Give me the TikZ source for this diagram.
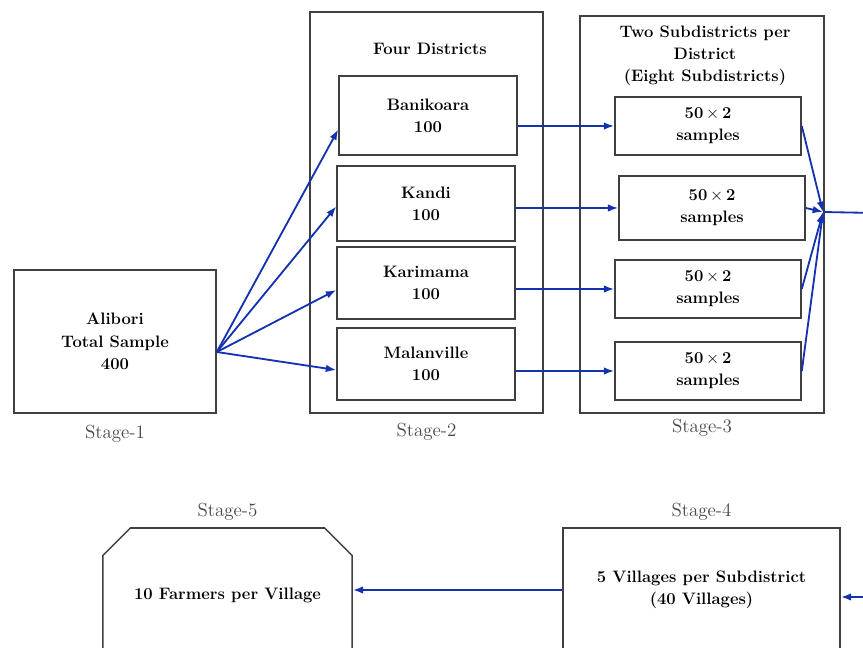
\documentclass[tikz,border=0pt]{standalone}
\usetikzlibrary{arrows.meta, positioning, calc, shapes.misc}
\definecolor{flowblue}{RGB}{20,50,175}
\tikzset{
    >={Latex[length=2.6mm,width=1.9mm]},
    box/.style={draw=black!75, line width=1.1pt, align=center, inner sep=0pt,
        font=\fontsize{11.8}{15.8}\selectfont\bfseries},
    frame/.style={draw=black!75, line width=1.1pt, inner sep=0pt},
    stage/.style={text=black!72, font=\fontsize{13.5}{15}\selectfont},
    flow/.style={->, draw=flowblue, line width=1.3pt},
}
\begin{document}
\begin{tikzpicture}[x=0.025cm, y=-0.025cm]
    \useasboundingbox (0,0) rectangle (863,648);
    \clip (0,0) rectangle (863,648);
    % stage 1
    \node[box, minimum width=5.05cm, minimum height=3.575cm] (alibori) at (115,341.5)
        {Alibori\\Total Sample\\400};
    \node[stage, below=0.15cm of alibori] (st1) {Stage-1};
    % stage 2
    \node[frame, minimum width=5.825cm, minimum height=10.025cm] (districts) at (426.5,212.5) {};
    \node[box, draw=none] (distTitle) at (430,49) {Four Districts};
    \node[box, minimum width=4.45cm, minimum height=1.975cm] (bani) at (428,115.5) {Banikoara\\100};
    \node[box, minimum width=4.45cm, minimum height=1.875cm] (kandi) at (426,203.5) {Kandi\\100};
    \node[box, minimum width=4.45cm, minimum height=1.8cm] (kari) at (426,283) {Karimama\\100};
    \node[box, minimum width=4.45cm, minimum height=1.8cm] (mal) at (426,364) {Malanville\\100};
    \node[stage, below=0.1cm of districts] (st2) {Stage-2};
    % stage 3
    \node[frame, minimum width=6.1cm, minimum height=9.925cm] (subdist) at (702,214.5) {};
    \node[box, draw=none] (subTitle) at (705,56)
        {Two Subdistricts per\\District\\(Eight Subdistricts)};
    \node[box, minimum width=4.65cm, minimum height=1.45cm] (subA) at (708,126) {50\,$\times$\,2\\samples};
    \node[box, minimum width=4.65cm, minimum height=1.6cm] (subB) at (712,208) {50\,$\times$\,2\\samples};
    \node[box, minimum width=4.65cm, minimum height=1.45cm] (subC) at (708,289) {50\,$\times$\,2\\samples};
    \node[box, minimum width=4.65cm, minimum height=1.45cm] (subD) at (708,371) {50\,$\times$\,2\\samples};
    \node[stage, below=0.02cm of subdist] (st3) {Stage-3};
    % stage 4 and 5
    \node[box, minimum width=6.925cm, minimum height=3.1cm] (villages) at (701.5,590)
        {5 Villages per Subdistrict\\(40 Villages)};
    \node[stage, above=0.05cm of villages] (st4) {Stage-4};
    \node[box, chamfered rectangle, chamfered rectangle corners={north west, north east},
        chamfered rectangle xsep=0.5cm, chamfered rectangle ysep=0.5cm,
        minimum width=6.225cm, minimum height=3.35cm] (farmers) at (227.5,595)
        {10 Farmers per Village};
    \node[stage, above=0.05cm of farmers] (st5) {Stage-5};
    % connectors
    \coordinate (fan) at ($(alibori.east)+(0,10.5)$);
    \foreach \n/\dy in {bani/14, kandi/3, kari/7, mal/6}{
        \draw[flow] (fan) -- ($(\n.west)+(0,\dy)$);
    }
    \draw[flow] (bani.east |- subA.west) -- (subA.west);
    \draw[flow] (kandi.east |- subB.west) -- (subB.west);
    \draw[flow] (kari.east |- subC.west) -- (subC.west);
    \draw[flow] (mal.east |- subD.west) -- (subD.west);
    \coordinate (meet) at (823,212);
    \foreach \n in {subA, subB, subC, subD}{
        \draw[flow] (\n.east) -- (meet);
    }
    \coordinate (outR) at (875,213);
    \draw[flow, -] (meet) -- (outR);
    \coordinate (inR) at (875,597);
    \draw[flow] (inR) -- (inR -| villages.east);
    \draw[flow] (villages.west) -- (villages.west -| farmers.east);
\end{tikzpicture}
\end{document}
